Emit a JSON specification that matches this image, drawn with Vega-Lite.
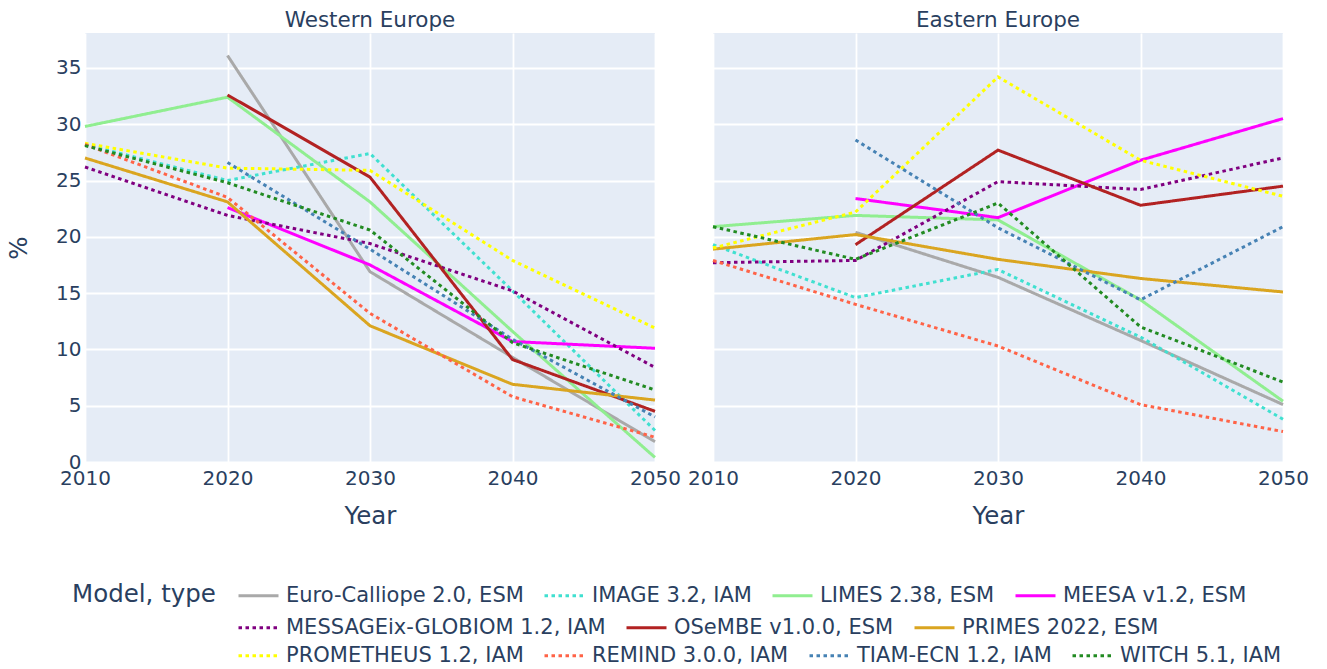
{
  "$schema": "https://vega.github.io/schema/vega-lite/v6.json",
  "padding": {"left": 6, "top": 9, "right": 5, "bottom": 5},
  "background": "white",
  "bounds": "flush",
  "spacing": 58,
  "config": {
    "font": "DejaVu Sans",
    "view": {"fill": "#E5ECF6", "stroke": null},
    "axis": {"gridColor": "white", "gridWidth": 1.8, "domain": false, "ticks": false, "labelFontSize": 20, "labelColor": "#2a3f5f", "titleFontSize": 24.5, "titleFontWeight": "normal", "titleColor": "#2a3f5f", "labelOverlap": false},
    "title": {"fontSize": 21.5, "fontWeight": "normal", "color": "#2a3f5f", "anchor": "middle", "offset": 2},
    "legend": {"symbolType": "stroke", "symbolStrokeWidth": 3, "symbolSize": 1600, "labelFontSize": 21, "labelColor": "#2a3f5f", "titleFontSize": 24.5, "titleFontWeight": "normal", "titleColor": "#2a3f5f", "labelOffset": 6, "columnPadding": 14, "labelLimit": 0, "direction": "horizontal"}
  },
  "datasets": {
    "d": [
      {"region": "Western Europe", "model": "Euro-Calliope 2.0, ESM", "year": 2020, "value": 36.1},
      {"region": "Western Europe", "model": "Euro-Calliope 2.0, ESM", "year": 2030, "value": 16.9},
      {"region": "Western Europe", "model": "Euro-Calliope 2.0, ESM", "year": 2040, "value": 9.3},
      {"region": "Western Europe", "model": "Euro-Calliope 2.0, ESM", "year": 2050, "value": 1.8},
      {"region": "Western Europe", "model": "IMAGE 3.2, IAM", "year": 2010, "value": 28.2},
      {"region": "Western Europe", "model": "IMAGE 3.2, IAM", "year": 2020, "value": 25.0},
      {"region": "Western Europe", "model": "IMAGE 3.2, IAM", "year": 2030, "value": 27.4},
      {"region": "Western Europe", "model": "IMAGE 3.2, IAM", "year": 2040, "value": 15.2},
      {"region": "Western Europe", "model": "IMAGE 3.2, IAM", "year": 2050, "value": 2.8},
      {"region": "Western Europe", "model": "LIMES 2.38, ESM", "year": 2010, "value": 29.8},
      {"region": "Western Europe", "model": "LIMES 2.38, ESM", "year": 2020, "value": 32.4},
      {"region": "Western Europe", "model": "LIMES 2.38, ESM", "year": 2030, "value": 23.1},
      {"region": "Western Europe", "model": "LIMES 2.38, ESM", "year": 2040, "value": 11.6},
      {"region": "Western Europe", "model": "LIMES 2.38, ESM", "year": 2050, "value": 0.4},
      {"region": "Western Europe", "model": "MEESA v1.2, ESM", "year": 2020, "value": 22.6},
      {"region": "Western Europe", "model": "MEESA v1.2, ESM", "year": 2030, "value": 17.5},
      {"region": "Western Europe", "model": "MEESA v1.2, ESM", "year": 2040, "value": 10.7},
      {"region": "Western Europe", "model": "MEESA v1.2, ESM", "year": 2050, "value": 10.1},
      {"region": "Western Europe", "model": "MESSAGEix-GLOBIOM 1.2, IAM", "year": 2010, "value": 26.2},
      {"region": "Western Europe", "model": "MESSAGEix-GLOBIOM 1.2, IAM", "year": 2020, "value": 21.9},
      {"region": "Western Europe", "model": "MESSAGEix-GLOBIOM 1.2, IAM", "year": 2030, "value": 19.4},
      {"region": "Western Europe", "model": "MESSAGEix-GLOBIOM 1.2, IAM", "year": 2040, "value": 15.2},
      {"region": "Western Europe", "model": "MESSAGEix-GLOBIOM 1.2, IAM", "year": 2050, "value": 8.4},
      {"region": "Western Europe", "model": "OSeMBE v1.0.0, ESM", "year": 2020, "value": 32.6},
      {"region": "Western Europe", "model": "OSeMBE v1.0.0, ESM", "year": 2030, "value": 25.3},
      {"region": "Western Europe", "model": "OSeMBE v1.0.0, ESM", "year": 2040, "value": 9.1},
      {"region": "Western Europe", "model": "OSeMBE v1.0.0, ESM", "year": 2050, "value": 4.5},
      {"region": "Western Europe", "model": "PRIMES 2022, ESM", "year": 2010, "value": 27.0},
      {"region": "Western Europe", "model": "PRIMES 2022, ESM", "year": 2020, "value": 23.1},
      {"region": "Western Europe", "model": "PRIMES 2022, ESM", "year": 2030, "value": 12.1},
      {"region": "Western Europe", "model": "PRIMES 2022, ESM", "year": 2040, "value": 6.9},
      {"region": "Western Europe", "model": "PRIMES 2022, ESM", "year": 2050, "value": 5.5},
      {"region": "Western Europe", "model": "PROMETHEUS 1.2, IAM", "year": 2010, "value": 28.3},
      {"region": "Western Europe", "model": "PROMETHEUS 1.2, IAM", "year": 2020, "value": 26.1},
      {"region": "Western Europe", "model": "PROMETHEUS 1.2, IAM", "year": 2030, "value": 25.9},
      {"region": "Western Europe", "model": "PROMETHEUS 1.2, IAM", "year": 2040, "value": 17.9},
      {"region": "Western Europe", "model": "PROMETHEUS 1.2, IAM", "year": 2050, "value": 11.9},
      {"region": "Western Europe", "model": "REMIND 3.0.0, IAM", "year": 2010, "value": 28.2},
      {"region": "Western Europe", "model": "REMIND 3.0.0, IAM", "year": 2020, "value": 23.5},
      {"region": "Western Europe", "model": "REMIND 3.0.0, IAM", "year": 2030, "value": 13.2},
      {"region": "Western Europe", "model": "REMIND 3.0.0, IAM", "year": 2040, "value": 5.8},
      {"region": "Western Europe", "model": "REMIND 3.0.0, IAM", "year": 2050, "value": 2.2},
      {"region": "Western Europe", "model": "TIAM-ECN 1.2, IAM", "year": 2020, "value": 26.6},
      {"region": "Western Europe", "model": "TIAM-ECN 1.2, IAM", "year": 2030, "value": 18.9},
      {"region": "Western Europe", "model": "TIAM-ECN 1.2, IAM", "year": 2040, "value": 10.9},
      {"region": "Western Europe", "model": "TIAM-ECN 1.2, IAM", "year": 2050, "value": 4.0},
      {"region": "Western Europe", "model": "WITCH 5.1, IAM", "year": 2010, "value": 28.1},
      {"region": "Western Europe", "model": "WITCH 5.1, IAM", "year": 2020, "value": 24.8},
      {"region": "Western Europe", "model": "WITCH 5.1, IAM", "year": 2030, "value": 20.6},
      {"region": "Western Europe", "model": "WITCH 5.1, IAM", "year": 2040, "value": 10.6},
      {"region": "Western Europe", "model": "WITCH 5.1, IAM", "year": 2050, "value": 6.4},
      {"region": "Eastern Europe", "model": "Euro-Calliope 2.0, ESM", "year": 2020, "value": 20.4},
      {"region": "Eastern Europe", "model": "Euro-Calliope 2.0, ESM", "year": 2030, "value": 16.4},
      {"region": "Eastern Europe", "model": "Euro-Calliope 2.0, ESM", "year": 2040, "value": 10.8},
      {"region": "Eastern Europe", "model": "Euro-Calliope 2.0, ESM", "year": 2050, "value": 5.1},
      {"region": "Eastern Europe", "model": "IMAGE 3.2, IAM", "year": 2010, "value": 19.3},
      {"region": "Eastern Europe", "model": "IMAGE 3.2, IAM", "year": 2020, "value": 14.6},
      {"region": "Eastern Europe", "model": "IMAGE 3.2, IAM", "year": 2030, "value": 17.1},
      {"region": "Eastern Europe", "model": "IMAGE 3.2, IAM", "year": 2040, "value": 11.1},
      {"region": "Eastern Europe", "model": "IMAGE 3.2, IAM", "year": 2050, "value": 3.8},
      {"region": "Eastern Europe", "model": "LIMES 2.38, ESM", "year": 2010, "value": 20.9},
      {"region": "Eastern Europe", "model": "LIMES 2.38, ESM", "year": 2020, "value": 21.9},
      {"region": "Eastern Europe", "model": "LIMES 2.38, ESM", "year": 2030, "value": 21.5},
      {"region": "Eastern Europe", "model": "LIMES 2.38, ESM", "year": 2040, "value": 14.4},
      {"region": "Eastern Europe", "model": "LIMES 2.38, ESM", "year": 2050, "value": 5.4},
      {"region": "Eastern Europe", "model": "MEESA v1.2, ESM", "year": 2020, "value": 23.4},
      {"region": "Eastern Europe", "model": "MEESA v1.2, ESM", "year": 2030, "value": 21.7},
      {"region": "Eastern Europe", "model": "MEESA v1.2, ESM", "year": 2040, "value": 26.8},
      {"region": "Eastern Europe", "model": "MEESA v1.2, ESM", "year": 2050, "value": 30.5},
      {"region": "Eastern Europe", "model": "MESSAGEix-GLOBIOM 1.2, IAM", "year": 2010, "value": 17.7},
      {"region": "Eastern Europe", "model": "MESSAGEix-GLOBIOM 1.2, IAM", "year": 2020, "value": 17.9},
      {"region": "Eastern Europe", "model": "MESSAGEix-GLOBIOM 1.2, IAM", "year": 2030, "value": 24.9},
      {"region": "Eastern Europe", "model": "MESSAGEix-GLOBIOM 1.2, IAM", "year": 2040, "value": 24.2},
      {"region": "Eastern Europe", "model": "MESSAGEix-GLOBIOM 1.2, IAM", "year": 2050, "value": 27.0},
      {"region": "Eastern Europe", "model": "OSeMBE v1.0.0, ESM", "year": 2020, "value": 19.3},
      {"region": "Eastern Europe", "model": "OSeMBE v1.0.0, ESM", "year": 2030, "value": 27.7},
      {"region": "Eastern Europe", "model": "OSeMBE v1.0.0, ESM", "year": 2040, "value": 22.8},
      {"region": "Eastern Europe", "model": "OSeMBE v1.0.0, ESM", "year": 2050, "value": 24.5},
      {"region": "Eastern Europe", "model": "PRIMES 2022, ESM", "year": 2010, "value": 18.9},
      {"region": "Eastern Europe", "model": "PRIMES 2022, ESM", "year": 2020, "value": 20.2},
      {"region": "Eastern Europe", "model": "PRIMES 2022, ESM", "year": 2030, "value": 18.0},
      {"region": "Eastern Europe", "model": "PRIMES 2022, ESM", "year": 2040, "value": 16.3},
      {"region": "Eastern Europe", "model": "PRIMES 2022, ESM", "year": 2050, "value": 15.1},
      {"region": "Eastern Europe", "model": "PROMETHEUS 1.2, IAM", "year": 2010, "value": 19.0},
      {"region": "Eastern Europe", "model": "PROMETHEUS 1.2, IAM", "year": 2020, "value": 22.2},
      {"region": "Eastern Europe", "model": "PROMETHEUS 1.2, IAM", "year": 2030, "value": 34.2},
      {"region": "Eastern Europe", "model": "PROMETHEUS 1.2, IAM", "year": 2040, "value": 26.8},
      {"region": "Eastern Europe", "model": "PROMETHEUS 1.2, IAM", "year": 2050, "value": 23.6},
      {"region": "Eastern Europe", "model": "REMIND 3.0.0, IAM", "year": 2010, "value": 17.9},
      {"region": "Eastern Europe", "model": "REMIND 3.0.0, IAM", "year": 2020, "value": 14.0},
      {"region": "Eastern Europe", "model": "REMIND 3.0.0, IAM", "year": 2030, "value": 10.3},
      {"region": "Eastern Europe", "model": "REMIND 3.0.0, IAM", "year": 2040, "value": 5.1},
      {"region": "Eastern Europe", "model": "REMIND 3.0.0, IAM", "year": 2050, "value": 2.7},
      {"region": "Eastern Europe", "model": "TIAM-ECN 1.2, IAM", "year": 2020, "value": 28.6},
      {"region": "Eastern Europe", "model": "TIAM-ECN 1.2, IAM", "year": 2030, "value": 20.8},
      {"region": "Eastern Europe", "model": "TIAM-ECN 1.2, IAM", "year": 2040, "value": 14.4},
      {"region": "Eastern Europe", "model": "TIAM-ECN 1.2, IAM", "year": 2050, "value": 20.9},
      {"region": "Eastern Europe", "model": "WITCH 5.1, IAM", "year": 2010, "value": 20.9},
      {"region": "Eastern Europe", "model": "WITCH 5.1, IAM", "year": 2020, "value": 18.0},
      {"region": "Eastern Europe", "model": "WITCH 5.1, IAM", "year": 2030, "value": 23.0},
      {"region": "Eastern Europe", "model": "WITCH 5.1, IAM", "year": 2040, "value": 12.0},
      {"region": "Eastern Europe", "model": "WITCH 5.1, IAM", "year": 2050, "value": 7.1}
    ]
  },
  "hconcat": [
    {
      "title": "Western Europe",
      "width": 570,
      "height": 429,
      "data": {"name": "d"},
      "transform": [{"filter": {"field": "region", "equal": "Western Europe"}}],
      "encoding": {
        "x": {"field": "year", "type": "quantitative", "scale": {"domain": [2010, 2050], "nice": false, "zero": false}, "axis": {"values": [2010, 2020, 2030, 2040, 2050], "format": "d", "labelFlush": false, "labelPadding": 6, "title": "Year", "titlePadding": 16}},
        "y": {"field": "value", "type": "quantitative", "scale": {"domain": [0, 38.1], "nice": false}, "axis": {"values": [0, 5, 10, 15, 20, 25, 30, 35], "labelPadding": 4, "title": "%", "titlePadding": 24}}
      },
      "layer": [
        {
          "transform": [{"filter": {"field": "model", "oneOf": ["Euro-Calliope 2.0, ESM", "IMAGE 3.2, IAM", "LIMES 2.38, ESM", "MEESA v1.2, ESM"]}}],
          "mark": {"type": "line", "strokeWidth": 3},
          "encoding": {
            "color": {"field": "model", "type": "nominal", "scale": {"domain": ["Euro-Calliope 2.0, ESM", "IMAGE 3.2, IAM", "LIMES 2.38, ESM", "MEESA v1.2, ESM"], "range": ["#A9A9A9", "#40E0D0", "#90EE90", "#FF00FF"]}, "legend": {"title": "Model, type", "titleOrient": "left", "titleAnchor": "middle", "titleBaseline": "line-top", "titleLineHeight": 10.5, "titlePadding": 21, "orient": "none", "legendX": -13, "legendY": 541}},
            "strokeDash": {"field": "model", "type": "nominal", "scale": {"domain": ["Euro-Calliope 2.0, ESM", "IMAGE 3.2, IAM", "LIMES 2.38, ESM", "MEESA v1.2, ESM"], "range": [[1, 0], [3.5, 3.5], [1, 0], [1, 0]]}, "legend": {"title": "Model, type", "titleOrient": "left", "titleAnchor": "middle", "titleBaseline": "line-top", "titleLineHeight": 10.5, "titlePadding": 21, "orient": "none", "legendX": -13, "legendY": 541}}
          }
        },
        {
          "transform": [{"filter": {"field": "model", "oneOf": ["MESSAGEix-GLOBIOM 1.2, IAM", "OSeMBE v1.0.0, ESM", "PRIMES 2022, ESM"]}}],
          "mark": {"type": "line", "strokeWidth": 3},
          "encoding": {
            "color": {"field": "model", "type": "nominal", "scale": {"domain": ["MESSAGEix-GLOBIOM 1.2, IAM", "OSeMBE v1.0.0, ESM", "PRIMES 2022, ESM"], "range": ["#800080", "#B22222", "#DAA520"]}, "legend": {"title": null, "orient": "none", "legendX": 152, "legendY": 573}},
            "strokeDash": {"field": "model", "type": "nominal", "scale": {"domain": ["MESSAGEix-GLOBIOM 1.2, IAM", "OSeMBE v1.0.0, ESM", "PRIMES 2022, ESM"], "range": [[3.5, 3.5], [1, 0], [1, 0]]}, "legend": {"title": null, "orient": "none", "legendX": 152, "legendY": 573}}
          }
        },
        {
          "transform": [{"filter": {"field": "model", "oneOf": ["PROMETHEUS 1.2, IAM", "REMIND 3.0.0, IAM", "TIAM-ECN 1.2, IAM", "WITCH 5.1, IAM"]}}],
          "mark": {"type": "line", "strokeWidth": 3},
          "encoding": {
            "color": {"field": "model", "type": "nominal", "scale": {"domain": ["PROMETHEUS 1.2, IAM", "REMIND 3.0.0, IAM", "TIAM-ECN 1.2, IAM", "WITCH 5.1, IAM"], "range": ["#FFFF00", "#FF6347", "#4682B4", "#228B22"]}, "legend": {"title": null, "orient": "none", "legendX": 152, "legendY": 601}},
            "strokeDash": {"field": "model", "type": "nominal", "scale": {"domain": ["PROMETHEUS 1.2, IAM", "REMIND 3.0.0, IAM", "TIAM-ECN 1.2, IAM", "WITCH 5.1, IAM"], "range": [[3.5, 3.5], [3.5, 3.5], [3.5, 3.5], [3.5, 3.5]]}, "legend": {"title": null, "orient": "none", "legendX": 152, "legendY": 601}}
          }
        }
      ],
      "resolve": {"scale": {"color": "independent", "strokeDash": "independent"}}
    },
    {
      "title": "Eastern Europe",
      "width": 570,
      "height": 429,
      "data": {"name": "d"},
      "transform": [{"filter": {"field": "region", "equal": "Eastern Europe"}}],
      "encoding": {
        "x": {"field": "year", "type": "quantitative", "scale": {"domain": [2010, 2050], "nice": false, "zero": false}, "axis": {"values": [2010, 2020, 2030, 2040, 2050], "format": "d", "labelFlush": false, "labelPadding": 6, "title": "Year", "titlePadding": 16}},
        "y": {"field": "value", "type": "quantitative", "scale": {"domain": [0, 38.1], "nice": false}, "axis": {"values": [0, 5, 10, 15, 20, 25, 30, 35], "labels": false, "title": null}}
      },
      "layer": [
        {
          "transform": [{"filter": {"field": "model", "oneOf": ["Euro-Calliope 2.0, ESM", "IMAGE 3.2, IAM", "LIMES 2.38, ESM", "MEESA v1.2, ESM"]}}],
          "mark": {"type": "line", "strokeWidth": 3},
          "encoding": {
            "color": {"field": "model", "type": "nominal", "scale": {"domain": ["Euro-Calliope 2.0, ESM", "IMAGE 3.2, IAM", "LIMES 2.38, ESM", "MEESA v1.2, ESM"], "range": ["#A9A9A9", "#40E0D0", "#90EE90", "#FF00FF"]}, "legend": null},
            "strokeDash": {"field": "model", "type": "nominal", "scale": {"domain": ["Euro-Calliope 2.0, ESM", "IMAGE 3.2, IAM", "LIMES 2.38, ESM", "MEESA v1.2, ESM"], "range": [[1, 0], [3.5, 3.5], [1, 0], [1, 0]]}, "legend": null}
          }
        },
        {
          "transform": [{"filter": {"field": "model", "oneOf": ["MESSAGEix-GLOBIOM 1.2, IAM", "OSeMBE v1.0.0, ESM", "PRIMES 2022, ESM"]}}],
          "mark": {"type": "line", "strokeWidth": 3},
          "encoding": {
            "color": {"field": "model", "type": "nominal", "scale": {"domain": ["MESSAGEix-GLOBIOM 1.2, IAM", "OSeMBE v1.0.0, ESM", "PRIMES 2022, ESM"], "range": ["#800080", "#B22222", "#DAA520"]}, "legend": null},
            "strokeDash": {"field": "model", "type": "nominal", "scale": {"domain": ["MESSAGEix-GLOBIOM 1.2, IAM", "OSeMBE v1.0.0, ESM", "PRIMES 2022, ESM"], "range": [[3.5, 3.5], [1, 0], [1, 0]]}, "legend": null}
          }
        },
        {
          "transform": [{"filter": {"field": "model", "oneOf": ["PROMETHEUS 1.2, IAM", "REMIND 3.0.0, IAM", "TIAM-ECN 1.2, IAM", "WITCH 5.1, IAM"]}}],
          "mark": {"type": "line", "strokeWidth": 3},
          "encoding": {
            "color": {"field": "model", "type": "nominal", "scale": {"domain": ["PROMETHEUS 1.2, IAM", "REMIND 3.0.0, IAM", "TIAM-ECN 1.2, IAM", "WITCH 5.1, IAM"], "range": ["#FFFF00", "#FF6347", "#4682B4", "#228B22"]}, "legend": null},
            "strokeDash": {"field": "model", "type": "nominal", "scale": {"domain": ["PROMETHEUS 1.2, IAM", "REMIND 3.0.0, IAM", "TIAM-ECN 1.2, IAM", "WITCH 5.1, IAM"], "range": [[3.5, 3.5], [3.5, 3.5], [3.5, 3.5], [3.5, 3.5]]}, "legend": null}
          }
        }
      ],
      "resolve": {"scale": {"color": "independent", "strokeDash": "independent"}}
    }
  ]
}
